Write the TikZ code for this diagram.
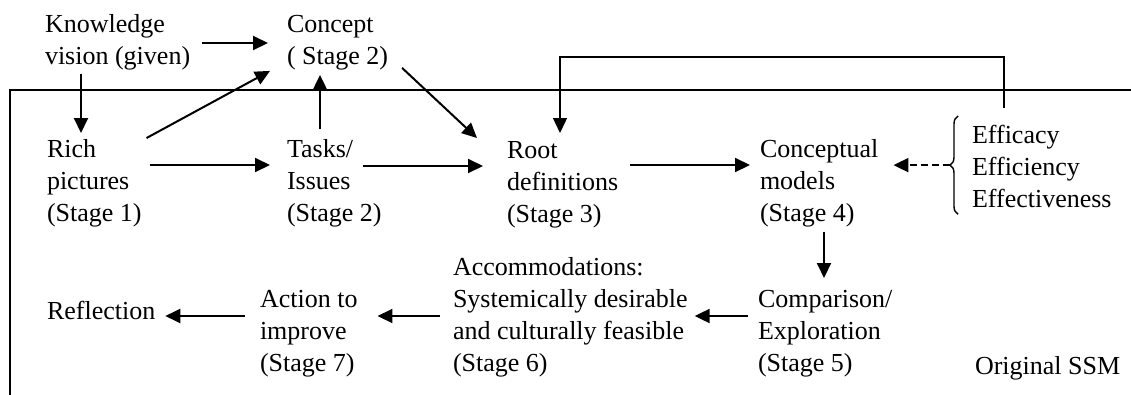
\documentclass[tikz,border=0pt]{standalone}
\usepackage{fontspec}
\setmainfont{Liberation Serif}
\usetikzlibrary{arrows.meta,decorations.pathreplacing}
\begin{document}
\begin{tikzpicture}[x=1pt,y=-1pt,
  lbl/.style={anchor=north west, inner sep=0pt, outer sep=0pt, align=left,
    font=\fontsize{26}{32}\selectfont, yshift=22.4pt},
  tipshape/.style={-{Triangle[length=15pt,width=14pt]}},
  arr/.style={line width=2pt, tipshape},
  thinline/.style={line width=1.4pt},
  framestyle/.style={line width=2pt}]
\useasboundingbox (0,0) rectangle (1131,394);

% frame of the original SSM
\draw[framestyle] (10,395) -- (10,90) -- (1131,90);

% texts
\node[lbl] (know) at (45,32) {\strut Knowledge\\vision (given)};
\node[lbl] (concept) at (287,32) {\strut Concept\\( Stage 2)};
\node[lbl] (rich) at (47,157) {\strut Rich\\pictures\\(Stage 1)};
\node[lbl] (tasks) at (287,157) {\strut Tasks/\\Issues\\(Stage 2)};
\node[lbl] (root) at (507,158) {\strut Root\\definitions\\(Stage 3)};
\node[lbl] (concm) at (760,157) {\strut Conceptual\\models\\(Stage 4)};
\node[lbl] (eff) at (972,143) {\strut Efficacy\\Efficiency\\Effectiveness};
\node[lbl] (comp) at (758,307) {\strut Comparison/\\Exploration\\(Stage 5)};
\node[lbl] (accom) at (453,275) {\strut Accommodations:\\Systemically desirable\\and culturally feasible\\(Stage 6)};
\node[lbl] (action) at (260,307) {\strut Action to\\improve\\(Stage 7)};
\node[lbl] (refl) at (47,319) {\strut Reflection};
\node[lbl] (ssm) at (975,374) {\strut Original SSM};

% connectors, top part
\draw[arr,shorten <=12pt,shorten >=19pt] (know.east |- 0,43) -- (concept.west |- 0,43);
\draw[arr,shorten <=4pt,shorten >=1.6pt] (know.south -| 81,0) -- (rich.north -| 81,0);
\draw[arr] ([shift={(5,3.4)}]rich.north east) -- ([shift={(-17,1.3)}]concept.south west);
\draw[arr,shorten <=8pt,shorten >=17pt] (rich.east |- 0,165) -- (tasks.west |- 0,165);
\draw[arr,shorten <=5.6pt,shorten >=5.3pt] (tasks.north -| 320,0) -- (concept.south -| 320,0);
\draw[arr] ([shift={(14,-1.7)}]concept.south east) -- ([shift={(-30,2.4)}]root.north west);
\draw[arr,shorten <=76pt,shorten >=24pt] (tasks.west |- 0,166) -- (root.west |- 0,166);
\draw[arr,shorten <=12pt,shorten >=10pt] (root.east |- 0,165) -- (concm.west |- 0,165);

% feedback loop from the three Es to root definitions
\draw[thinline,tipshape] ([shift={(32,-12.6)}]eff.north west) -- ++(0,-51) -| ([shift={(53,-2.6)}]root.north west);

% brace and dashed arrow
\draw[thinline,decorate,decoration={brace,amplitude=8pt}]
  ([shift={(-14,7)}]eff.south west) -- ([shift={(-14,-4.6)}]eff.north west);
\coordinate (btip) at ([shift={(-22,1.2)}]eff.west);
\draw[arr,dash pattern=on 7pt off 4pt,shorten >=15pt] (btip) -- (concm.east |- btip);

% lower part
\draw[arr,shorten <=5pt,shorten >=6.6pt] (concm.south -| 824,0) -- (comp.north -| 824,0);
\draw[arr,shorten <=10pt,shorten >=7pt] (comp.west |- 0,316) -- (accom.east |- 0,316);
\draw[arr,shorten <=13pt,shorten >=20pt] (accom.west |- 0,316) -- (action.east |- 0,316);
\draw[arr,shorten <=15pt,shorten >=10pt] (action.west |- 0,316) -- (refl.east |- 0,316);
\end{tikzpicture}
\end{document}
